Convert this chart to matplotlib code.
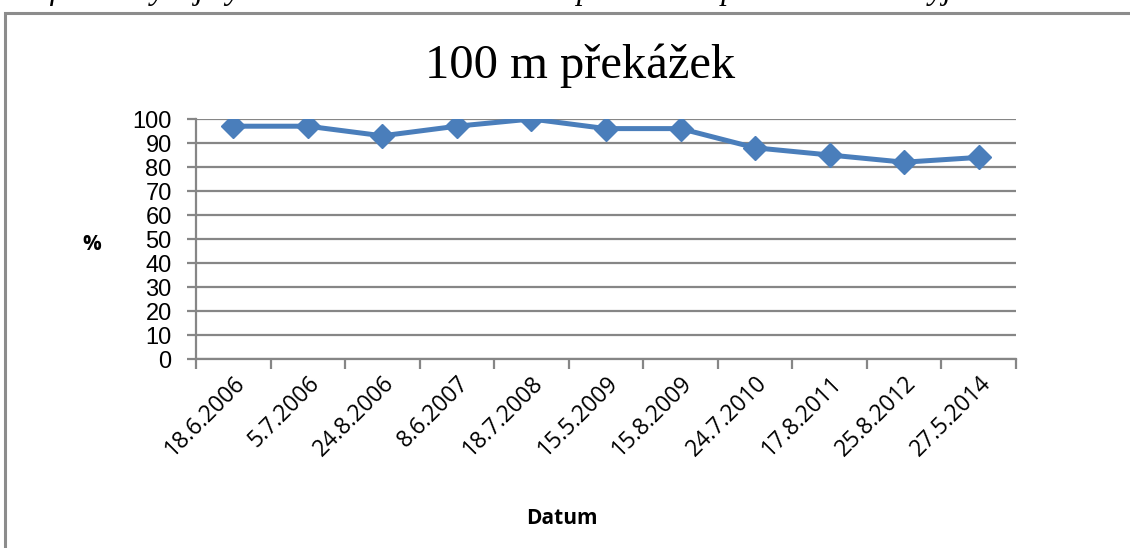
import matplotlib.pyplot as plt
from matplotlib.patches import Rectangle

# Data
dates = ['18.6.2006', '5.7.2006', '24.8.2006', '8.6.2007', '18.7.2008', '15.5.2009',
         '15.8.2009', '24.7.2010', '17.8.2011', '25.8.2012', '27.5.2014']
percent = [97, 97, 93, 97, 100, 96, 96, 88, 85, 82, 84]
y_ticks = list(range(0, 101, 10))

grey = '#868686'
blue = '#4A7EBB'

fig = plt.figure(figsize=(11.3, 5.48), dpi=100)

# Caption above chart (cut off by the image edge, as in the source)
fig.text(-2 / 1130, 1 + 1 / 548, 'Graf č. 6: Vývoj výkonnosti v běhu na 100 m překážek v procentuálním vyjádření',
         family='Liberation Serif', style='italic', fontsize=23, va='baseline', ha='left')

# Chart frame
fig.patches.append(Rectangle((5 / 1130, -0.05), 1.2, 1 - 13 / 548 + 0.05, transform=fig.transFigure,
                             fill=False, edgecolor='#8c8c8c', linewidth=2.2))

ax = fig.add_axes([196 / 1130, 189 / 548, 820 / 1130, 240 / 548])
x = range(len(dates))
ax.plot(x, percent, color=blue, linewidth=3.6, marker='D', markersize=12, zorder=3)

ax.set_xlim(-0.5, len(dates) - 0.5)
ax.set_ylim(0, 100)
ax.set_yticks(y_ticks)
ax.set_yticklabels([str(v) for v in y_ticks], family='Liberation Sans', fontsize=17)
ax.yaxis.grid(True, color=grey, linewidth=1.6)
ax.set_axisbelow(True)

# category ticks at boundaries, labels at centres
ax.set_xticks([i - 0.5 for i in range(len(dates) + 1)])
ax.set_xticklabels([])
ax.set_xticks(list(x), minor=True)
ax.set_xticklabels(dates, minor=True, rotation=45, ha='right', rotation_mode='anchor',
                   family='Open Sans', fontsize=16.5)
ax.tick_params(axis='x', which='major', length=7, width=1.6, color=grey, direction='out')
ax.tick_params(axis='x', which='minor', length=0, pad=9)
ax.tick_params(axis='y', length=6.5, width=1.6, color=grey, pad=11)

for side in ['top', 'right']:
    ax.spines[side].set_visible(False)
for side in ['left', 'bottom']:
    ax.spines[side].set_color(grey)
    ax.spines[side].set_linewidth(1.6)

fig.text(580 / 1130, 1 - 66 / 548, '100 m překážek', family='Liberation Serif', fontsize=35,
         ha='center', va='center')
fig.text(92 / 1130, 1 - 245 / 548, '%', family='Open Sans', fontweight='bold', fontsize=15,
         ha='center', va='center')
fig.text(562 / 1130, 1 - 518 / 548, 'Datum', family='Open Sans', fontweight='bold', fontsize=15,
         ha='center', va='center')

plt.savefig('out.png', dpi=100)
